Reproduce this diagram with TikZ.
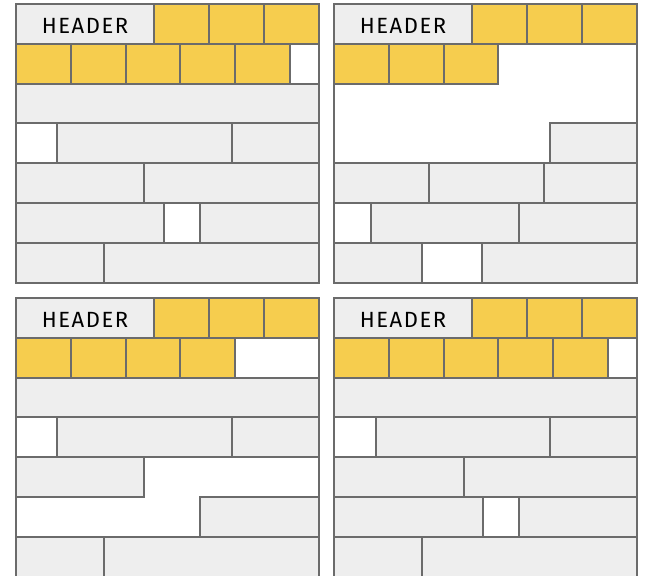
\documentclass[tikz,border=0pt]{standalone}
\usepackage{fontspec}
\setmainfont{Fira Sans}[LetterSpace=7]
\usetikzlibrary{positioning}
\definecolor{slotgray}{HTML}{EEEEEE}
\definecolor{slotyellow}{HTML}{F6CD4E}
\definecolor{slotline}{HTML}{6B6B6B}

\begin{document}
\begin{tikzpicture}[
  x=1pt,y=-39.8pt,
  used/.style={fill=slotgray,draw=slotline,line width=2pt},
  tag/.style={fill=slotyellow,draw=slotline,line width=2pt},
  frame/.style={draw=slotline,line width=2pt},
  hdr/.style={font=\fontsize{22}{22}\selectfont,inner sep=0pt}
]
  \useasboundingbox (0pt,0pt) rectangle (646pt,-576pt);

  % top left
  \begin{scope}[xshift=16pt,yshift=-4pt]
    \draw[used] (0,0) rectangle (138,1);
    \node[hdr] (hdrA) at (69,0.55) {HEADER};
    \foreach \a in {138,193,248} \draw[tag] (\a,0) rectangle ++(55,1);
    \foreach \a in {0,54.8,109.6,164.4,219.2} \draw[tag] (\a,1) rectangle ++(54.8,1);
    \draw[used] (0,2) rectangle (303,3);
    \draw[used] (41,3) rectangle (216,4);
    \draw[used] (216,3) rectangle (303,4);
    \draw[used] (0,4) rectangle (128,5);
    \draw[used] (128,4) rectangle (303,5);
    \draw[used] (0,5) rectangle (148,6);
    \draw[used] (184,5) rectangle (303,6);
    \draw[used] (0,6) rectangle (88,7);
    \draw[used] (88,6) rectangle (303,7);
    \draw[frame] (0,0) rectangle (303,7);
  \end{scope}

  % top right
  \begin{scope}[xshift=334pt,yshift=-4pt]
    \draw[used] (0,0) rectangle (138,1);
    \node[hdr] (hdrB) at (69,0.55) {HEADER};
    \foreach \a in {138,193,248} \draw[tag] (\a,0) rectangle ++(55,1);
    \foreach \a in {0,54.8,109.6} \draw[tag] (\a,1) rectangle ++(54.8,1);
    \draw[used] (216,3) rectangle (303,4);
    \draw[used] (0,4) rectangle (94.7,5);
    \draw[used] (94.7,4) rectangle (210,5);
    \draw[used] (210,4) rectangle (303,5);
    \draw[used] (37,5) rectangle (185,6);
    \draw[used] (185,5) rectangle (303,6);
    \draw[used] (0,6) rectangle (88,7);
    \draw[used] (148,6) rectangle (303,7);
    \draw[frame] (0,0) rectangle (303,7);
  \end{scope}

  % bottom left
  \begin{scope}[xshift=16pt,yshift=-298pt]
    \draw[used] (0,0) rectangle (138,1);
    \node[hdr] (hdrC) at (69,0.55) {HEADER};
    \foreach \a in {138,193,248} \draw[tag] (\a,0) rectangle ++(55,1);
    \foreach \a in {0,54.8,109.6,164.4} \draw[tag] (\a,1) rectangle ++(54.8,1);
    \draw[used] (0,2) rectangle (303,3);
    \draw[used] (41,3) rectangle (216,4);
    \draw[used] (216,3) rectangle (303,4);
    \draw[used] (0,4) rectangle (128,5);
    \draw[used] (184,5) rectangle (303,6);
    \draw[used] (0,6) rectangle (88,7);
    \draw[used] (88,6) rectangle (303,7);
    \draw[frame] (0,0) rectangle (303,7);
  \end{scope}

  % bottom right
  \begin{scope}[xshift=334pt,yshift=-298pt]
    \draw[used] (0,0) rectangle (138,1);
    \node[hdr] (hdrD) at (69,0.55) {HEADER};
    \foreach \a in {138,193,248} \draw[tag] (\a,0) rectangle ++(55,1);
    \foreach \a in {0,54.8,109.6,164.4,219.2} \draw[tag] (\a,1) rectangle ++(54.8,1);
    \draw[used] (0,2) rectangle (303,3);
    \draw[used] (42,3) rectangle (216,4);
    \draw[used] (216,3) rectangle (303,4);
    \draw[used] (0,4) rectangle (129.5,5);
    \draw[used] (129.5,4) rectangle (303,5);
    \draw[used] (0,5) rectangle (149,6);
    \draw[used] (184.7,5) rectangle (303,6);
    \draw[used] (0,6) rectangle (88,7);
    \draw[used] (88,6) rectangle (303,7);
    \draw[frame] (0,0) rectangle (303,7);
  \end{scope}
\end{tikzpicture}
\end{document}
